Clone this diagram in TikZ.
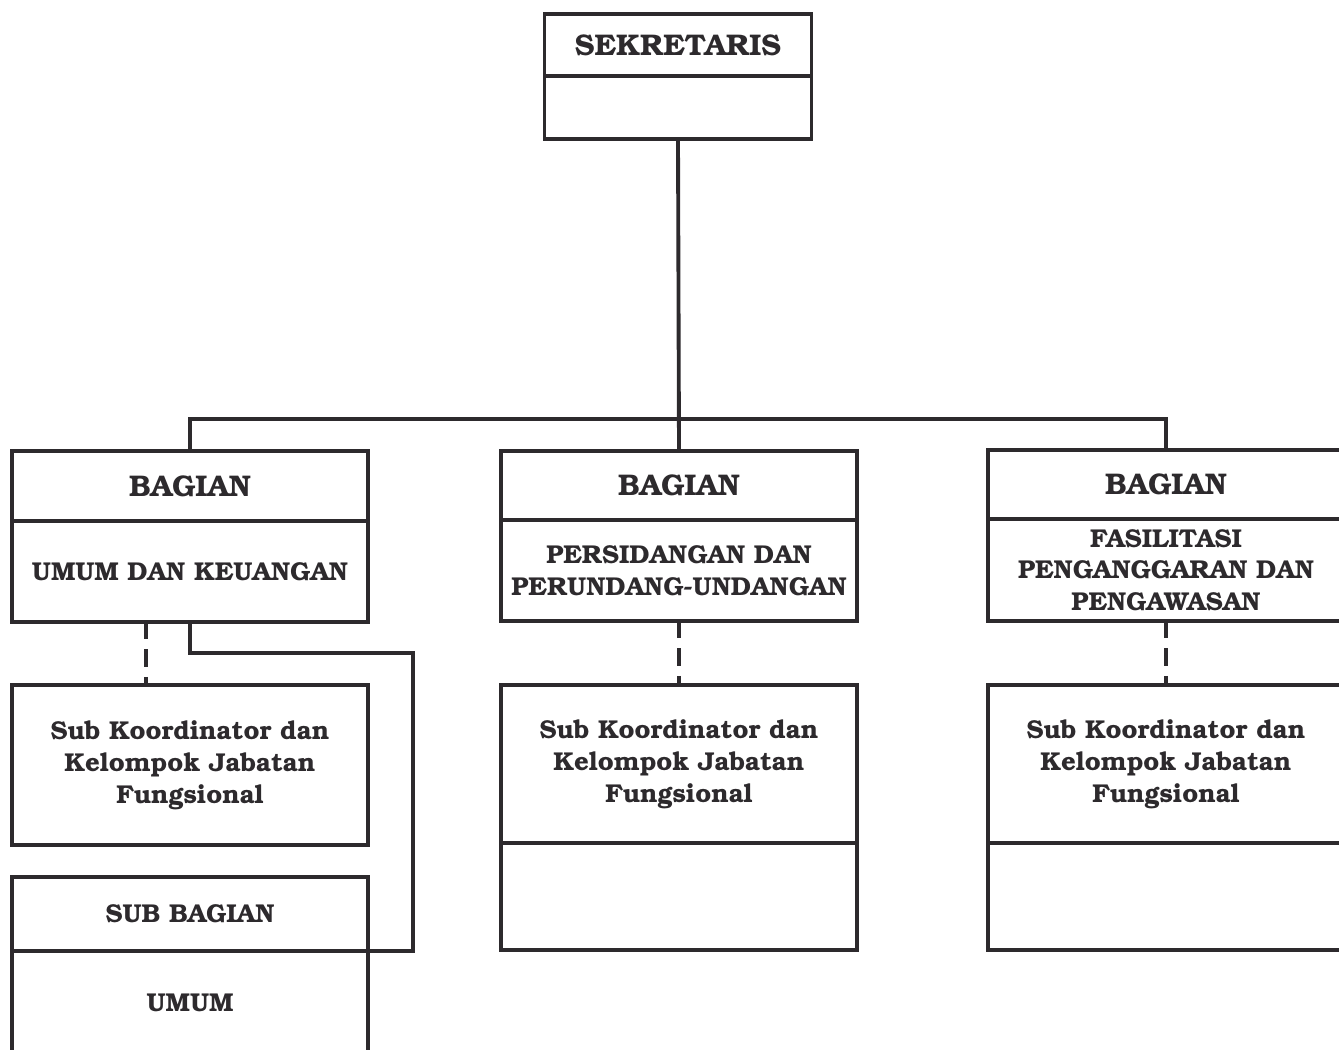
\documentclass[tikz,border=0pt]{standalone}
\usepackage[T1]{fontenc}
\usepackage{bookman}
\usepackage{tikz}
\usetikzlibrary{positioning}

\definecolor{ink}{RGB}{45,42,45}

\begin{document}
\begin{tikzpicture}[x=0.02cm,y=-0.02cm,
  orgbox/.style={draw=ink,line width=2pt,minimum width=7.12cm,inner sep=0pt,outer sep=0pt,
    align=center,text=ink,font=\fontsize{14.7}{18.1}\selectfont\bfseries},
  titlebox/.style={orgbox,font=\fontsize{17}{20}\selectfont\bfseries},
  conn/.style={draw=ink,line width=2.2pt},
  dashconn/.style={conn,dash pattern=on 0.35cm off 0.2cm}]
  \useasboundingbox (0,0) rectangle (1339,1049);
  \clip (0,0) rectangle (1339,1049);
  % sekretaris
  \node[titlebox,anchor=north,minimum width=5.34cm,minimum height=1.24cm] (sek) at (678,14) {SEKRETARIS};
  \node[orgbox,anchor=north,minimum width=5.34cm,minimum height=1.26cm] (sekb) at (sek.south) {};
  % bagian
  \node[titlebox,anchor=north,minimum height=1.4cm] (bag1) at (190,451) {BAGIAN};
  \node[orgbox,anchor=north,minimum height=2.02cm] (bag1b) at (bag1.south) {UMUM DAN KEUANGAN};
  \node[titlebox,anchor=north,minimum height=1.38cm] (bag2) at (679,451) {BAGIAN};
  \node[orgbox,anchor=north,minimum height=2.02cm] (bag2b) at (bag2.south) {PERSIDANGAN DAN\\PERUNDANG-UNDANGAN};
  \node[titlebox,anchor=north,minimum height=1.38cm] (bag3) at (1166,450) {BAGIAN};
  \node[orgbox,anchor=north,minimum height=2.04cm] (bag3b) at (bag3.south) {FASILITASI\\PENGANGGARAN DAN\\PENGAWASAN};
  % sub koordinator
  \node[orgbox,anchor=north,minimum height=3.2cm] (sk1) at (190,685) {Sub Koordinator dan\\Kelompok Jabatan\\Fungsional};
  \node[orgbox,anchor=north,minimum height=3.16cm] (sk2) at (679,685) {Sub Koordinator dan\\Kelompok Jabatan\\Fungsional};
  \node[orgbox,anchor=north,minimum height=2.14cm] (sk2b) at (sk2.south) {};
  \node[orgbox,anchor=north,minimum height=3.16cm] (sk3) at (1166,685) {Sub Koordinator dan\\Kelompok Jabatan\\Fungsional};
  \node[orgbox,anchor=north,minimum height=2.14cm] (sk3b) at (sk3.south) {};
  % sub bagian
  \node[orgbox,anchor=north,minimum height=1.48cm] (sbag) at (190,877) {SUB BAGIAN};
  \node[orgbox,anchor=north,minimum height=2.1cm] (sbagb) at (sbag.south) {UMUM};
  % lines
  \draw[conn] (sekb.south) -- (bag2.north);
  \draw[conn] (bag1.north) -- ++(0,-32) -| (bag3.north);
  \draw[dashconn] ([xshift=-0.88cm]bag1b.south) -- ([xshift=-0.88cm]sk1.north);
  \draw[dashconn] (bag2b.south) -- (sk2.north);
  \draw[dashconn] (bag3b.south) -- (sk3.north);
  \draw[conn] (bag1b.south) |- (413,653) |- (sbag.south east);
\end{tikzpicture}
\end{document}
